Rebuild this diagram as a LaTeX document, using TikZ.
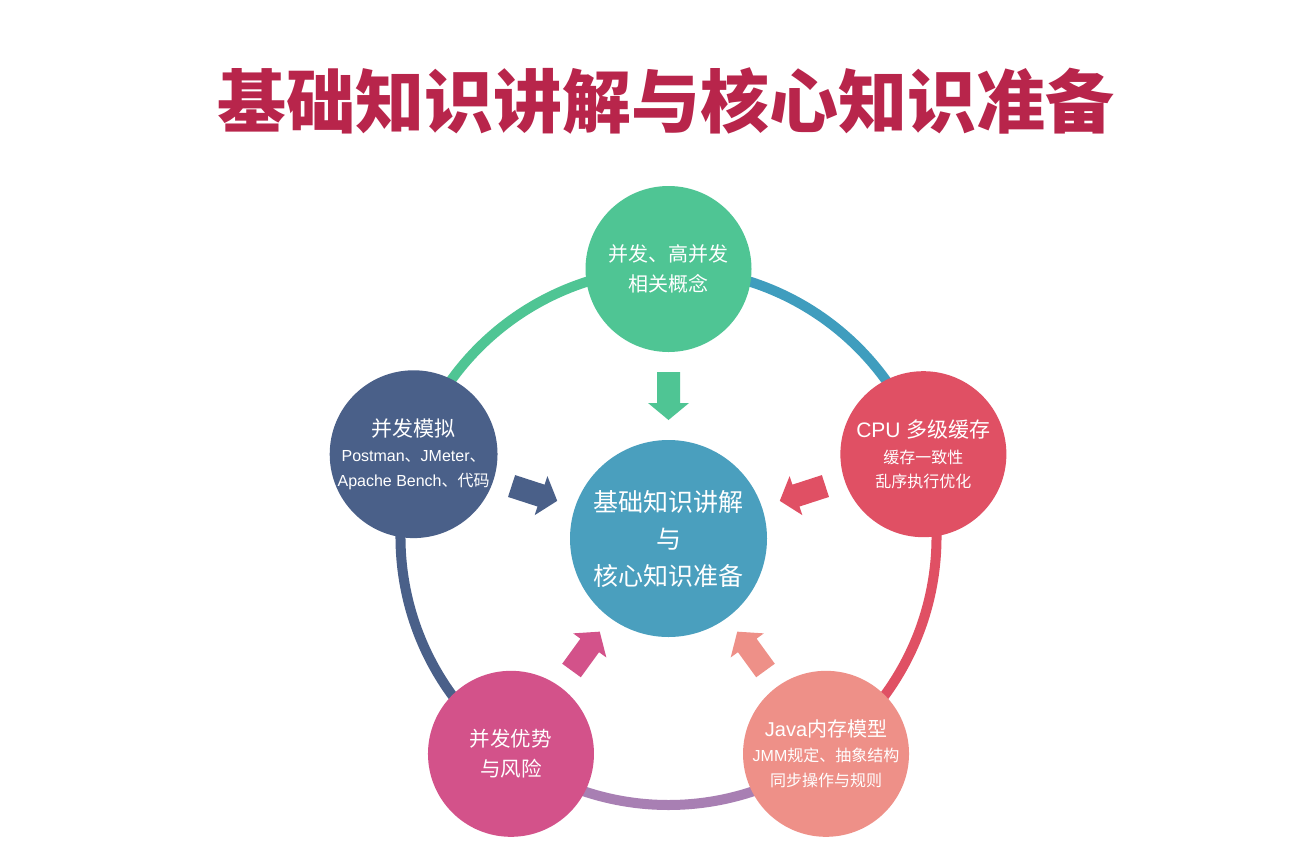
\documentclass[tikz,border=0pt]{standalone}
\usepackage{fontspec}
\setmainfont{Noto Sans CJK SC}
\newfontfamily\lat{Liberation Sans}
\usetikzlibrary{backgrounds}
\definecolor{ctitle}{HTML}{B8254B}
\definecolor{cgreen}{HTML}{4FC594}
\definecolor{cred}{HTML}{E05064}
\definecolor{cnavy}{HTML}{4A6089}
\definecolor{cmag}{HTML}{D3528A}
\definecolor{csalmon}{HTML}{EE9088}
\definecolor{cteal}{HTML}{4A9FBE}
\definecolor{rblue}{HTML}{3F9DBE}
\definecolor{rpurple}{HTML}{A87FB3}
\begin{document}
\begin{tikzpicture}[x=1pt,y=1pt,
  circ/.style={circle, minimum size=166pt, inner sep=0pt, text=white, align=center},
  ring/.style={line width=10pt},
  barrow/.pic={\fill[pic actions] (-48,-11.5) -- (-17,-11.5) -- (-17,-20.5) -- (0,0) -- (-17,20.5) -- (-17,11.5) -- (-48,11.5) -- cycle;}]
\useasboundingbox (0,0) rectangle (1293,-852);
\coordinate (C) at (668.5,-537);
\node[font=\fontsize{69}{69}\selectfont\bfseries, text=ctitle, inner sep=0pt] (title) at (665.5,-101) {基础知识讲解与核心知识准备};

\node[circ, fill=cgreen, font=\fontsize{20}{30}\selectfont] (top) at ([shift={(90:268pt)}]C) {并发、高并发\\相关概念};
\node[circ, fill=cred, font=\fontsize{16}{24}\selectfont] (right) at ([shift={(18:268pt)}]C) {{\fontsize{21}{24}\selectfont{\lat CPU }多级缓存}\\[2pt]缓存一致性\\乱序执行优化};
\node[circ, fill=cnavy, font=\fontsize{16}{25}\selectfont] (left) at ([shift={(162:268pt)}]C) {{\fontsize{21}{25}\selectfont 并发模拟}\\{\lat Postman}、{\lat JMeter}、\\{\lat Apache Bench}、代码};
\node[circ, fill=cmag, font=\fontsize{20.5}{30}\selectfont] (bl) at ([shift={(234:268pt)}]C) {并发优势\\与风险};
\node[circ, fill=csalmon, font=\fontsize{16}{25}\selectfont] (br) at ([shift={(306:268pt)}]C) {{\fontsize{20}{25}\selectfont{\lat Java}内存模型}\\{\lat JMM}规定、抽象结构\\同步操作与规则};
\node[circ, minimum size=197pt, fill=cteal, font=\fontsize{25}{37}\selectfont] (center) at (668.5,-538.5) {基础知识讲解\\与\\核心知识准备};

\begin{scope}[on background layer]
\fill[white] (0,0) rectangle (1293,-852);
\draw[ring, draw=rblue] (top.center) arc[start angle=90, end angle=18, radius=268pt];
\draw[ring, draw=cred] (right.center) arc[start angle=18, end angle=-54, radius=268pt];
\draw[ring, draw=rpurple] (br.center) arc[start angle=-54, end angle=-126, radius=268pt];
\draw[ring, draw=cnavy] (bl.center) arc[start angle=234, end angle=162, radius=268pt];
\draw[ring, draw=cgreen] (left.center) arc[start angle=162, end angle=90, radius=268pt];
\end{scope}

\pic[fill=cgreen, rotate=270] at ([shift={(90:117pt)}]C) {barrow};
\pic[fill=cred, rotate=198] at ([shift={(18:117pt)}]C) {barrow};
\pic[fill=cnavy, rotate=342] at ([shift={(162:117pt)}]C) {barrow};
\pic[fill=cmag, rotate=54] at ([shift={(234:117pt)}]C) {barrow};
\pic[fill=csalmon, rotate=126] at ([shift={(306:117pt)}]C) {barrow};
\end{tikzpicture}
\end{document}
